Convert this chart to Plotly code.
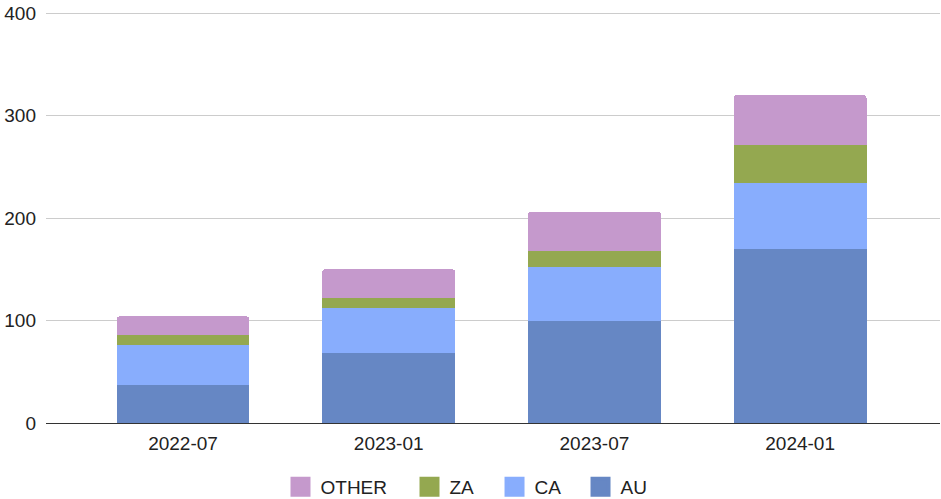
import plotly.graph_objects as go

categories = ["2022-07", "2023-01", "2023-07", "2024-01"]
au = [37, 68, 100, 170]
ca = [39, 44, 52, 64]
za = [10, 10, 16, 37]
other = [18, 28, 38, 49]
y_ticks = [0, 100, 200, 300, 400]

series = [
    ("AU", au, "#6687C4"),
    ("CA", ca, "#88ADFD"),
    ("ZA", za, "#94A850"),
    ("OTHER", other, "#C599CC"),
]

# legend entry positions (paper x of each legend box, left-anchored)
legend_x = {"OTHER": 0.2623, "ZA": 0.4066, "CA": 0.5017, "AU": 0.5979}
legend_ids = {"OTHER": "legend", "ZA": "legend2", "CA": "legend3", "AU": "legend4"}

fig = go.Figure()
for name, vals, color in series:
    fig.add_trace(go.Bar(
        x=categories, y=vals, name=name, showlegend=False,
        marker=dict(color=color, line=dict(width=0)),
    ))
for name, vals, color in series:
    fig.add_trace(go.Scatter(
        x=[None], y=[None], mode="markers", name=name,
        legend=legend_ids[name], hoverinfo="skip",
        marker=dict(symbol="square", size=16, color=color,
                    line=dict(color=color, width=4)),
    ))

font_family = "Arial, 'Liberation Sans', sans-serif"
legend_common = dict(
    orientation="h", xanchor="left", y=-0.1531, yanchor="middle",
    font=dict(size=19, color="#222222"), bgcolor="rgba(0,0,0,0)",
)
fig.update_layout(
    barmode="stack",
    bargap=0.354,
    barcornerradius=3,
    width=941, height=499,
    margin=dict(l=46, r=1, t=5, b=76, autoexpand=False),
    paper_bgcolor="white",
    plot_bgcolor="white",
    font=dict(family=font_family, size=19, color="#222222"),
    legend=dict(x=legend_x["OTHER"], **legend_common),
    legend2=dict(x=legend_x["ZA"], **legend_common),
    legend3=dict(x=legend_x["CA"], **legend_common),
    legend4=dict(x=legend_x["AU"], **legend_common),
    xaxis=dict(
        type="category",
        range=[-0.666, 3.68],
        showgrid=False, showline=False, zeroline=False,
        ticklabelstandoff=7,
        tickfont=dict(size=19, color="#222222"),
        automargin=False,
    ),
    yaxis=dict(
        range=[0, 408],
        tickvals=y_ticks,
        showgrid=True, gridcolor="#CCCCCC", gridwidth=1,
        zeroline=True, zerolinecolor="#333333", zerolinewidth=1,
        showline=False,
        ticklabelstandoff=9,
        tickfont=dict(size=19, color="#222222"),
        automargin=False,
    ),
)

fig.write_html(
    "out.html",
    config={"displayModeBar": False},
    post_script="document.body.style.margin='0';document.body.style.overflow='hidden';",
)
